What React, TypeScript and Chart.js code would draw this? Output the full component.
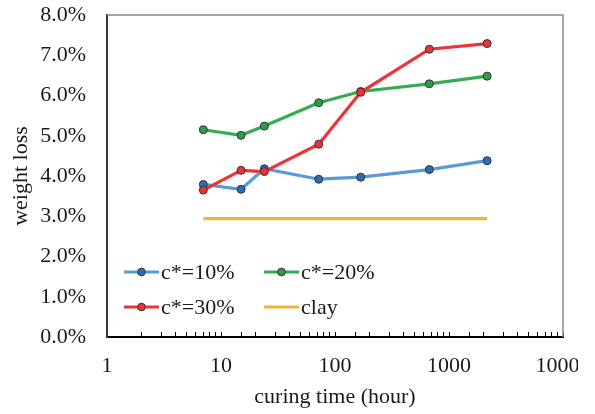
import { useEffect, useRef } from 'react';
import { Chart, registerables } from 'chart.js';

Chart.register(...registerables);

// Curing time (hours) and measured weight loss (fraction) per cement content
const curingHours = [7, 15, 24, 72, 168, 672, 2160];
const loss10 = [0.0379, 0.0367, 0.0418, 0.0392, 0.0397, 0.0416, 0.0438];
const loss20 = [0.0515, 0.0501, 0.0524, 0.0582, 0.061, 0.0629, 0.0648];
const loss30 = [0.0365, 0.0414, 0.0411, 0.0479, 0.0608, 0.0715, 0.0729];
const clayHours = [7, 2160];
const clayLoss = [0.0294, 0.0294];
const seriesNames = ['c*=10%', 'c*=20%', 'c*=30%', 'clay'];

const X_MIN = 1;
const X_MAX = 10000;
const Y_MIN = 0;
const Y_MAX = 0.08;
const Y_STEP = 0.01;

const FONT_FAMILY = "'Times New Roman', 'Liberation Serif', serif";
const TEXT_COLOR = '#1a1a1a';
const FONT_SIZE = 22;

const pts = (xs: number[], ys: number[]) => xs.map((x, i) => ({ x, y: ys[i] }));

// Box lines on the top and right of the plot area
const frameLines = {
  id: 'frameLines',
  afterDatasetsDraw(chart: any) {
    const { ctx, chartArea: a } = chart;
    ctx.save();
    ctx.strokeStyle = '#8a8a8a';
    ctx.lineWidth = 1.5;
    ctx.beginPath();
    ctx.moveTo(a.left, a.top);
    ctx.lineTo(a.right, a.top);
    ctx.lineTo(a.right, a.bottom);
    ctx.stroke();
    ctx.restore();
  },
};

// Two-column legend placed inside the lower-left part of the plot
const insideLegend = {
  id: 'insideLegend',
  afterDraw(chart: any) {
    const { ctx } = chart;
    const ds = chart.data.datasets;
    const cells = [
      { i: 0, x: 124, y: 272 },
      { i: 1, x: 264, y: 272 },
      { i: 2, x: 124, y: 307 },
      { i: 3, x: 264, y: 307 },
    ];
    ctx.save();
    ctx.font = `${FONT_SIZE}px ${FONT_FAMILY}`;
    ctx.textBaseline = 'middle';
    ctx.textAlign = 'left';
    for (const c of cells) {
      const d = ds[c.i];
      ctx.strokeStyle = d.borderColor;
      ctx.lineWidth = 3;
      ctx.beginPath();
      ctx.moveTo(c.x, c.y);
      ctx.lineTo(c.x + 35, c.y);
      ctx.stroke();
      if (d.pointRadius > 0) {
        ctx.beginPath();
        ctx.arc(c.x + 17.5, c.y, 3.8, 0, Math.PI * 2);
        ctx.fillStyle = d.pointBackgroundColor;
        ctx.fill();
        ctx.lineWidth = 1;
        ctx.strokeStyle = d.pointBorderColor;
        ctx.stroke();
      }
      ctx.fillStyle = TEXT_COLOR;
      ctx.fillText(d.label, c.x + 37, c.y + 1);
    }
    ctx.restore();
  },
};

export default function App() {
  const ref = useRef<HTMLCanvasElement | null>(null);

  useEffect(() => {
    if (!ref.current) return;
    const series = (label: string, xs: number[], ys: number[], line: string, fill: string, order: number, marker = true) => ({
      label,
      data: pts(xs, ys),
      borderColor: line,
      backgroundColor: line,
      borderWidth: 3.2,
      pointRadius: marker ? 4 : 0,
      pointBackgroundColor: fill,
      pointBorderColor: '#333333',
      pointBorderWidth: 1,
      tension: 0,
      order,
    });

    const chart = new Chart(ref.current, {
      type: 'line',
      data: {
        datasets: [
          series(seriesNames[0], curingHours, loss10, '#5b9bd5', '#2a6db3', 2),
          series(seriesNames[1], curingHours, loss20, '#34ac50', '#2e9d4a', 1),
          series(seriesNames[2], curingHours, loss30, '#ec3338', '#e8333a', 0),
          series(seriesNames[3], clayHours, clayLoss, '#f3b13a', '#f3b13a', 3, false),
        ],
      },
      options: {
        responsive: false,
        animation: false,
        devicePixelRatio: 1,
        layout: { padding: { top: 15, left: 0, right: 15, bottom: 0 } },
        plugins: {
          legend: { display: false },
          tooltip: { enabled: false },
        },
        scales: {
          x: {
            type: 'logarithmic',
            min: X_MIN,
            max: X_MAX,
            afterFit(scale: any) {
              scale.height = 77;
              scale.paddingLeft = 0;
              scale.paddingRight = 0;
            },
            border: { display: true, color: '#000000', width: 2 },
            grid: {
              display: true,
              drawOnChartArea: false,
              drawTicks: true,
              tickLength: -5,
              color: '#000000',
              tickWidth: 1,
            },
            ticks: {
              autoSkip: false,
              maxRotation: 0,
              minRotation: 0,
              padding: 21,
              color: TEXT_COLOR,
              font: { family: FONT_FAMILY, size: FONT_SIZE },
              callback: (v: any) => {
                const l = Math.log10(Number(v));
                return Math.abs(l - Math.round(l)) < 1e-9 ? String(Number(v)) : '';
              },
            },
            title: {
              display: true,
              text: 'curing time (hour)',
              color: TEXT_COLOR,
              font: { family: FONT_FAMILY, size: FONT_SIZE },
              padding: { top: 0, bottom: 4 },
            },
          },
          y: {
            type: 'linear',
            min: Y_MIN,
            max: Y_MAX,
            afterFit(scale: any) {
              scale.width = 107;
              scale.paddingTop = 0;
              scale.paddingBottom = 0;
            },
            border: { display: true, color: '#333333', width: 2 },
            grid: { display: true, drawOnChartArea: false, drawTicks: false },
            ticks: {
              stepSize: Y_STEP,
              padding: 21,
              color: TEXT_COLOR,
              font: { family: FONT_FAMILY, size: FONT_SIZE },
              callback: (v: any) => (Number(v) * 100).toFixed(1) + '%',
            },
            title: {
              display: true,
              text: 'weight loss',
              color: TEXT_COLOR,
              font: { family: FONT_FAMILY, size: FONT_SIZE },
              padding: { top: 8, bottom: 0 },
            },
          },
        },
      },
      plugins: [frameLines, insideLegend],
    } as any);

    return () => chart.destroy();
  }, []);

  return (
    <div style={{ position: 'absolute', left: 0, top: 0, width: 595, height: 414, background: '#ffffff' }}>
      <canvas ref={ref} width={578} height={414} style={{ display: 'block' }} />
    </div>
  );
}
